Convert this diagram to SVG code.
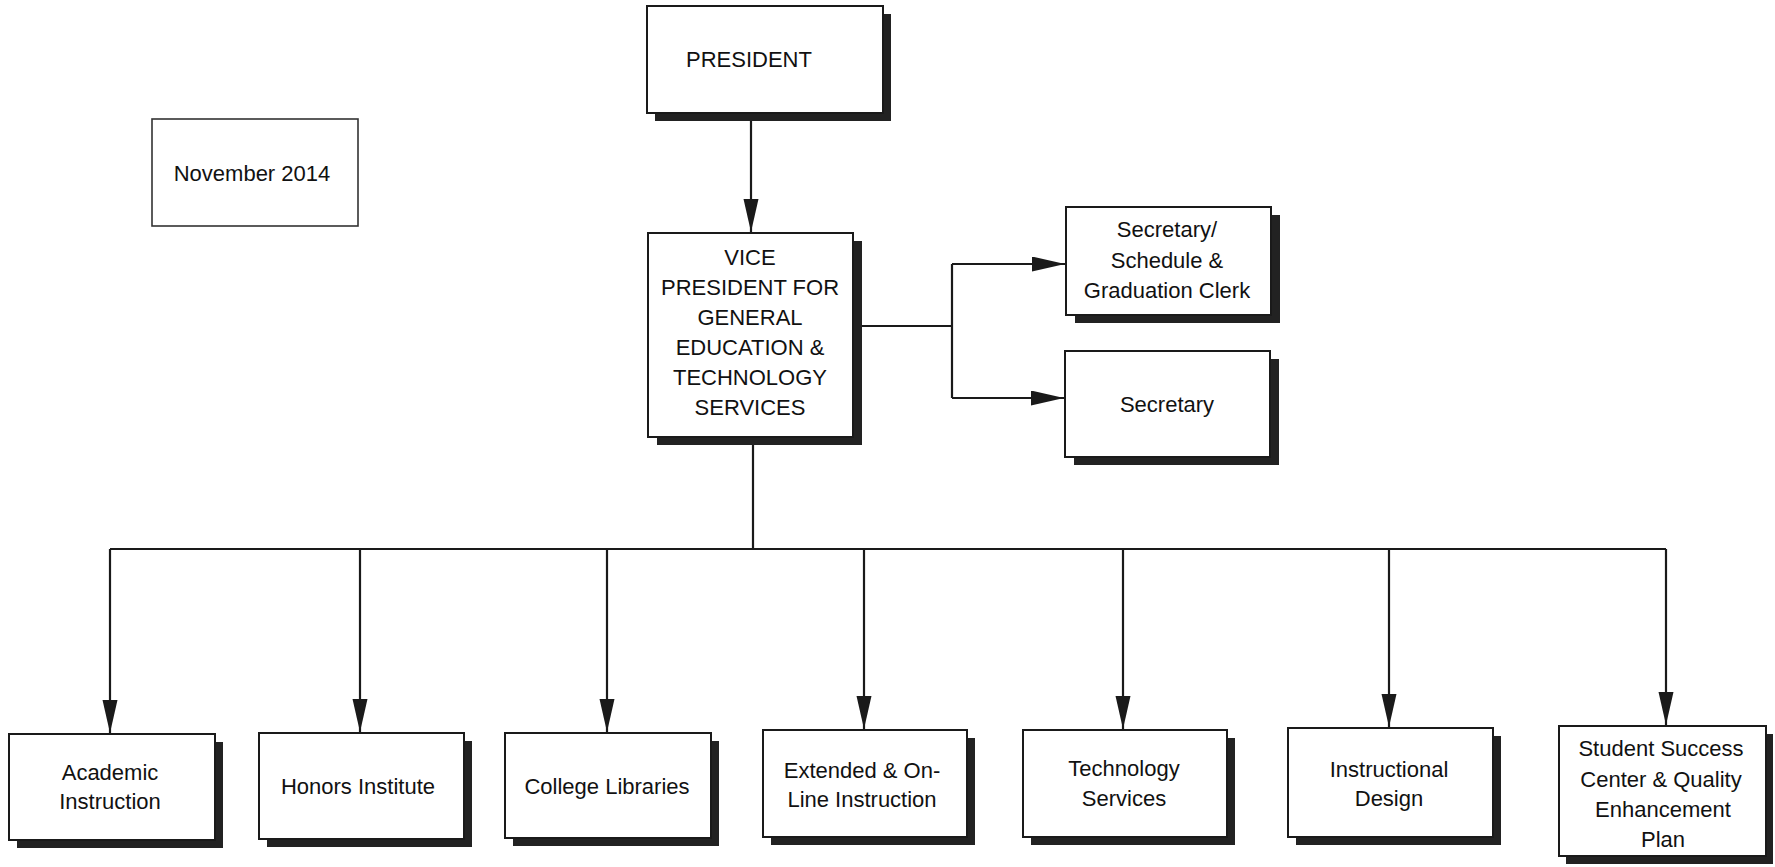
<svg xmlns="http://www.w3.org/2000/svg" width="1775" height="867" viewBox="0 0 1775 867">
<defs>
<style>
.box{fill:#fff;stroke:#1a1a1a;stroke-width:2}
.sh{fill:#222}
.t{font-family:"Liberation Sans",Arial,sans-serif;font-size:22px;fill:#111;text-anchor:middle}
.ln{fill:none;stroke:#1a1a1a;stroke-width:2.2}
</style>
<marker id="ah" markerUnits="userSpaceOnUse" markerWidth="34" markerHeight="16" refX="33" refY="7.5" orient="auto">
<path d="M0,0 L33,7.5 L0,15 Z" fill="#1a1a1a"/>
</marker>
</defs>
<rect width="1775" height="867" fill="#fff"/>
<g id="connectors">
<path class="ln" d="M751,113 V232" marker-end="url(#ah)"/>
<path class="ln" d="M853,326 H952 M952,264 V398"/>
<path class="ln" d="M952,264 H1065" marker-end="url(#ah)"/>
<path class="ln" d="M952,398 H1064" marker-end="url(#ah)"/>
<path class="ln" d="M753,437 V549 M110,549 H1666"/>
<path class="ln" d="M110,549 V733" marker-end="url(#ah)"/>
<path class="ln" d="M360,549 V732" marker-end="url(#ah)"/>
<path class="ln" d="M607,549 V732" marker-end="url(#ah)"/>
<path class="ln" d="M864,549 V729" marker-end="url(#ah)"/>
<path class="ln" d="M1123,549 V729" marker-end="url(#ah)"/>
<path class="ln" d="M1389,549 V727" marker-end="url(#ah)"/>
<path class="ln" d="M1666,549 V725" marker-end="url(#ah)"/>
</g>
<g id="president">
<rect class="sh" x="655" y="14" width="236" height="107"/>
<rect class="box" x="647" y="6" width="236" height="107"/>
<text class="t" x="749" y="67">PRESIDENT</text>
</g>
<g id="date">
<rect class="box" x="152" y="119" width="206" height="107" style="stroke-width:1.6;stroke:#333"/>
<text class="t" x="252" y="181">November 2014</text>
</g>
<g id="vp">
<rect class="sh" x="657" y="241" width="205" height="204"/>
<rect class="box" x="648" y="233" width="205" height="204"/>
<text class="t" x="750" y="265">VICE</text>
<text class="t" x="750" y="295">PRESIDENT FOR</text>
<text class="t" x="750" y="325">GENERAL</text>
<text class="t" x="750" y="355">EDUCATION &amp;</text>
<text class="t" x="750" y="385">TECHNOLOGY</text>
<text class="t" x="750" y="415">SERVICES</text>
</g>
<g id="sec-clerk">
<rect class="sh" x="1075" y="215" width="205" height="108"/>
<rect class="box" x="1066" y="207" width="205" height="108"/>
<text class="t" x="1167" y="237">Secretary/</text>
<text class="t" x="1167" y="268">Schedule &amp;</text>
<text class="t" x="1167" y="298">Graduation Clerk</text>
</g>
<g id="secretary">
<rect class="sh" x="1074" y="359" width="205" height="106"/>
<rect class="box" x="1065" y="351" width="205" height="106"/>
<text class="t" x="1167" y="412">Secretary</text>
</g>
<g id="academic">
<rect class="sh" x="17" y="742" width="206" height="106"/>
<rect class="box" x="9" y="734" width="206" height="106"/>
<text class="t" x="110" y="780">Academic</text>
<text class="t" x="110" y="809">Instruction</text>
</g>
<g id="honors">
<rect class="sh" x="267" y="741" width="205" height="106"/>
<rect class="box" x="259" y="733" width="205" height="106"/>
<text class="t" x="358" y="794">Honors Institute</text>
</g>
<g id="libraries">
<rect class="sh" x="513" y="741" width="206" height="105"/>
<rect class="box" x="505" y="733" width="206" height="105"/>
<text class="t" x="607" y="794">College Libraries</text>
</g>
<g id="extended">
<rect class="sh" x="771" y="738" width="204" height="107"/>
<rect class="box" x="763" y="730" width="204" height="107"/>
<text class="t" x="862" y="778">Extended &amp; On-</text>
<text class="t" x="862" y="807">Line Instruction</text>
</g>
<g id="technology">
<rect class="sh" x="1031" y="738" width="204" height="107"/>
<rect class="box" x="1023" y="730" width="204" height="107"/>
<text class="t" x="1124" y="776">Technology</text>
<text class="t" x="1124" y="806">Services</text>
</g>
<g id="instructional">
<rect class="sh" x="1296" y="736" width="205" height="109"/>
<rect class="box" x="1288" y="728" width="205" height="109"/>
<text class="t" x="1389" y="777">Instructional</text>
<text class="t" x="1389" y="806">Design</text>
</g>
<g id="student-success">
<rect class="sh" x="1566" y="734" width="207" height="130"/>
<rect class="box" x="1559" y="726" width="207" height="130"/>
<text class="t" x="1661" y="756">Student Success</text>
<text class="t" x="1661" y="787">Center &amp; Quality</text>
<text class="t" x="1663" y="817">Enhancement</text>
<text class="t" x="1663" y="847">Plan</text>
</g>
</svg>
